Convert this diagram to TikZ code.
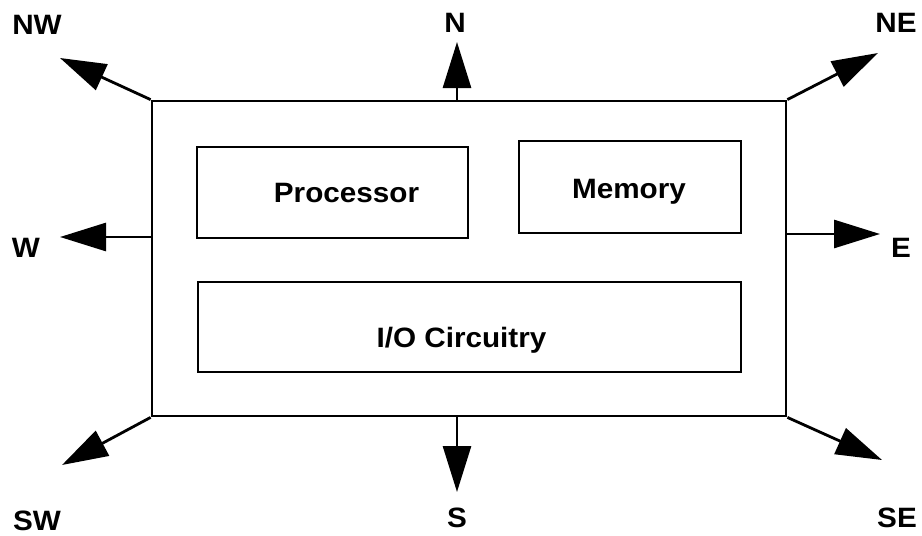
\documentclass[tikz,border=0pt]{standalone}
\usepackage{fontspec}
\setmainfont{Liberation Sans}[FakeStretch=1.06]
\usetikzlibrary{arrows.meta}
\begin{document}
\begin{tikzpicture}[x=1pt,y=-1pt,
  txt/.style={font=\fontsize{28}{33}\selectfont\bfseries, inner sep=0pt},
  unit/.style={draw, line width=2.8pt, minimum width=634pt, minimum height=315pt, inner sep=0pt},
  part/.style={draw, line width=2.9pt, inner sep=0pt},
  dirarrow/.style={line width=2.8pt, -{Triangle[length=46pt,width=28pt]}}]
\useasboundingbox (0,0) rectangle (922,536);

% the module and its parts
\node[unit] (module) at (469,258.5) {};
\node[part, minimum width=271pt, minimum height=91pt] (proc) at (332.5,192.5) {};
\node[part, minimum width=222pt, minimum height=92pt] (mem) at (630,187) {};
\node[part, minimum width=543pt, minimum height=90pt] (io) at (469.5,327) {};
\node[txt, anchor=base] (procT) at (346.5,202) {Processor};
\node[txt, anchor=base] (memT) at (629,198) {Memory};
\node[txt, anchor=base] (ioT) at (461.5,347) {I/O Circuitry};

% arrow tips
\coordinate (tN)  at (457,42);
\coordinate (tNE) at (878,53);
\coordinate (tE)  at (880,234);
\coordinate (tSE) at (882,460);
\coordinate (tS)  at (457,492);
\coordinate (tSW) at (62,465);
\coordinate (tW)  at (60,237);
\coordinate (tNW) at (60,58);

% direction arrows
\draw[dirarrow] (module.north -| tN) -- (tN);
\draw[dirarrow] (module.north east) -- (tNE);
\draw[dirarrow] (module.east |- tE) -- (tE);
\draw[dirarrow] (module.south east) -- (tSE);
\draw[dirarrow] (module.south -| tS) -- (tS);
\draw[dirarrow] (module.south west) -- (tSW);
\draw[dirarrow] (module.west |- tW) -- (tW);
\draw[dirarrow] (module.north west) -- (tNW);

% direction labels
\node[txt] (lN)  at (455,23)  {N};
\node[txt] (lNE) at (896,23)  {NE};
\node[txt] (lE)  at (901,248) {E};
\node[txt] (lSE) at (897,518) {SE};
\node[txt] (lS)  at (457,518) {S};
\node[txt] (lSW) at (37,521)  {SW};
\node[txt] (lW)  at (26,248)  {W};
\node[txt] (lNW) at (37,25)   {NW};
\end{tikzpicture}
\end{document}
